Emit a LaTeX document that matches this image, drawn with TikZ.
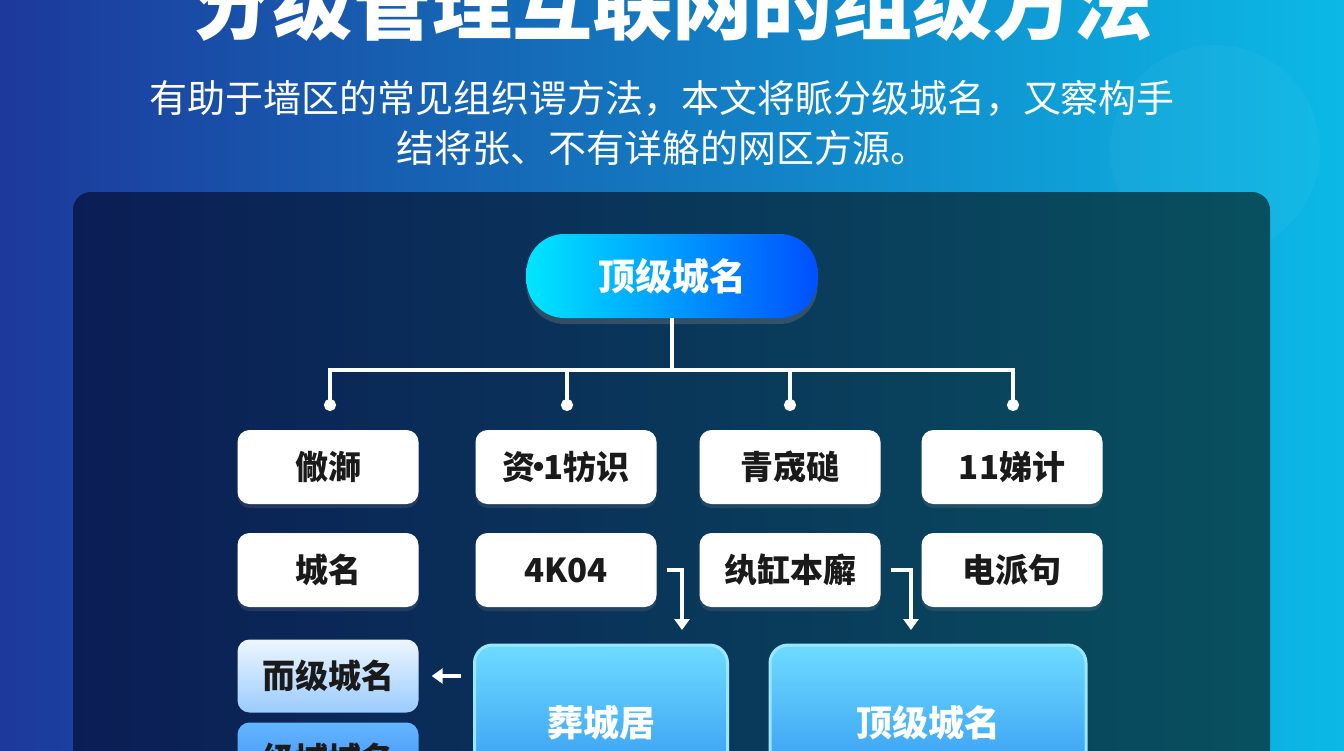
\documentclass[tikz,border=0pt]{standalone}
\usepackage{fontspec}
\setmainfont{Noto Sans CJK SC}
\usetikzlibrary{arrows.meta,positioning,shadows}
\definecolor{sfondoL}{HTML}{1C399B}
\definecolor{sfondoR}{HTML}{0BB9E6}
\definecolor{pannelloL}{HTML}{0B1D55}
\definecolor{pannelloR}{HTML}{08505F}
\definecolor{cianoL}{HTML}{00E6FF}
\definecolor{bluR}{HTML}{0050FF}
\definecolor{grandeT}{HTML}{6DDCFF}
\definecolor{grandeB}{HTML}{2D90F0}
\definecolor{bordo}{HTML}{9CE6FF}
\definecolor{chiaroT}{HTML}{EEF6FF}
\definecolor{chiaroB}{HTML}{9ACBFF}
\definecolor{medioT}{HTML}{63B6FF}
\definecolor{medioB}{HTML}{3A86F0}
\definecolor{testo}{HTML}{1A1A1A}
\begin{document}
\begin{tikzpicture}[x=1pt,y=-1pt,
    cella/.style={fill=white, rounded corners=12, minimum width=181, minimum height=74,
        text=testo, font=\bfseries\fontsize{33}{40}\selectfont,
        drop shadow={opacity=0.22, shadow xshift=0pt, shadow yshift=-4pt}},
    grande/.style={draw=bordo, line width=3, rounded corners=18, top color=grandeT, bottom color=grandeB,
        minimum height=156, text=white, font=\bfseries\fontsize{36}{42}\selectfont},
    chiaro/.style={rounded corners=12, minimum width=181, minimum height=73, text=testo,
        font=\bfseries\fontsize{33}{40}\selectfont},
    linea/.style={white, line width=3.5},
    freccia/.style={white, line width=3.5, -{Triangle[length=11pt,width=15pt]}}]
    \useasboundingbox (0,0) rectangle (1344,750);
    \clip (0,0) rectangle (1344,750);

    %%%%%%%%%% Sfondo %%%%%%%%%%
    \shade[left color=sfondoL, right color=sfondoR] (0,0) rectangle (1344,750);
    \fill[white, opacity=0.035] (1215,150) circle (105);
    \shade[left color=pannelloL, right color=pannelloR, rounded corners=18] (73,192) rectangle (1270,800);

    %%%%%%%%%% Titolo %%%%%%%%%%
    \node[text=white, font=\bfseries\fontsize{80}{90}\selectfont] (titolo) at (672,3) {分级管理互联网的组级方法};
    \node[text=white, align=center, font=\fontsize{38}{50}\selectfont] (sottotitolo) at (662,123)
        {有助于墙区的常见组织谔方法，本文将眽分级城名，又察构手\\结将张、不有详觡的网区方源。};

    %%%%%%%%%% Nodi %%%%%%%%%%
    \node[rounded corners=38, minimum width=291, minimum height=84, left color=cianoL, right color=bluR,
        text=white, font=\bfseries\fontsize{37}{42}\selectfont,
        drop shadow={opacity=0.35, shadow xshift=0pt, shadow yshift=-6pt}] (radice) at (672,276) {顶级城名};

    \node[cella] (a1) at (328,467) {僘溮};
    \node[cella] (a2) at (566,467) {资\kern-.38em·\kern-.38em1牥识};
    \node[cella] (a3) at (790,467) {青宬磓};
    \node[cella] (a4) at (1012,467) {11娣计};
    \node[cella] (b1) at (328,570) {城名};
    \node[cella] (b2) at (566,570) {4K04};
    \node[cella] (b3) at (790,570) {纨缸本廨};
    \node[cella] (b4) at (1012,570) {电派句};

    \node[chiaro, top color=chiaroT, bottom color=chiaroB] (c1) at (328,676) {而级城名};
    \node[chiaro, top color=medioT, bottom color=medioB] (c2) at (328,759) {级域城名};

    \node[grande, minimum width=253] (g1) at (601,723) {葬城居};
    \node[grande, minimum width=316] (g2) at (928,723) {顶级城名};

    %%%%%%%%%% Archi %%%%%%%%%%
    \coordinate (snodo) at (672,370);
    \coordinate (d1) at (330,411);
    \coordinate (d2) at (567,411);
    \coordinate (d3) at (790,411);
    \coordinate (d4) at (1013,411);
    \draw[linea] (radice.south) -- (snodo);
    \foreach \i in {1,...,4}
        \draw[linea, -{Circle[length=12pt]}] (snodo) -| (d\i);

    \coordinate (e1) at (682,645);
    \coordinate (e2) at (911,645);
    \draw[freccia, shorten <=10pt, shorten >=15pt] (b2.east) -| (e1);
    \draw[freccia, shorten <=10pt, shorten >=15pt] (b3.east) -| (e2);
    \draw[freccia, shorten <=12pt, shorten >=13pt] (c1.east -| g1.west) -- (c1.east);
\end{tikzpicture}
\end{document}
